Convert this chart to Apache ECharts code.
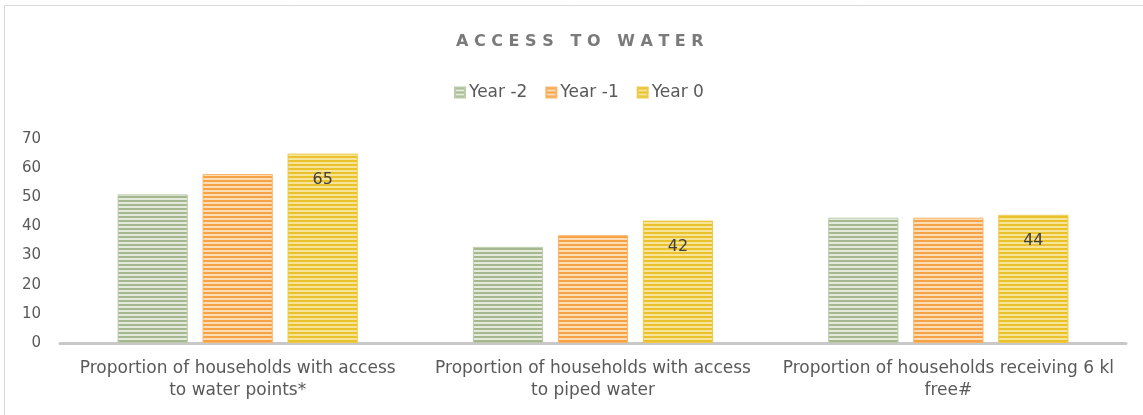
<!DOCTYPE html>
<html>
<head>
<meta charset="utf-8">
<style>
  html, body { margin: 0; padding: 0; background: #fff; }
  #chart { width: 1143px; height: 415px; }
</style>
<script src="https://cdn.jsdelivr.net/npm/echarts@6/dist/echarts.min.js"></script>
</head>
<body>
<div id="chart"></div>
<script>
// Indicator categories (x axis)
const categories = [
  'Proportion of households with access\nto water points*',
  'Proportion of households with access\nto piped water',
  'Proportion of households receiving 6 kl\nfree#'
];
// Series values per year
const yearMinus2 = [51, 33, 43];
const yearMinus1 = [58, 37, 43];
const year0 = [65, 42, 44];
// Value axis ticks
const yTicks = [0, 10, 20, 30, 40, 50, 60, 70];

// Horizontal-stripe fill used for every bar
function stripes(dark, light) {
  const c = document.createElement('canvas');
  c.width = 8; c.height = 4;
  const ctx = c.getContext('2d');
  ctx.fillStyle = light;
  ctx.fillRect(0, 0, 8, 4);
  ctx.fillStyle = dark;
  ctx.fillRect(0, 0, 8, 2);
  return { image: c, repeat: 'repeat' };
}

const palette = [
  { dark: '#a6b890', light: '#e4eadb', border: '#bccaa9' },
  { dark: '#f6a348', light: '#fcdcb4', border: '#f8b56a' },
  { dark: '#e9c22c', light: '#f7e39a', border: '#eccb4c' }
];

const font = '"DejaVu Sans", sans-serif';
const chart = echarts.init(document.getElementById('chart'), null, { renderer: 'canvas' });

function makeSeries(name, data, idx, withLabel) {
  const p = palette[idx];
  return {
    name: name,
    type: 'bar',
    data: data,
    barGap: '21%',
    barCategoryGap: '32.4%',
    itemStyle: { color: stripes(p.dark, p.light), borderColor: p.border, borderWidth: 1 },
    label: withLabel ? {
      show: true, position: 'insideTop', distance: 18,
      color: '#404040', fontSize: 16, fontFamily: font
    } : { show: false },
    emphasis: { disabled: true }
  };
}

chart.setOption({
  animation: false,
  backgroundColor: '#ffffff',
  title: {
    text: 'A C C E S S   T O   W A T E R',
    left: 451, top: 29,
    textStyle: { color: '#7a7a7a', fontSize: 16, fontWeight: 'bold', fontFamily: font }
  },
  legend: {
    top: 79, left: 449,
    itemWidth: 10, itemHeight: 10, itemGap: 18,
    icon: 'rect',
    textStyle: { color: '#595959', fontSize: 17, fontFamily: font, padding: [0, 0, 0, -1] },
    data: ['Year -2', 'Year -1', 'Year 0']
  },
  graphic: [{
    type: 'rect', silent: true, z: -1,
    shape: { x: 4.5, y: 5.5, width: 1160, height: 430 },
    style: { fill: 'none', stroke: '#d9d9d9', lineWidth: 1 }
  }],
  grid: { left: 60, right: 17, top: 139, bottom: 72, containLabel: false },
  xAxis: {
    type: 'category',
    data: categories,
    axisLine: { show: true, lineStyle: { color: '#c8c8c8', width: 3 } },
    axisTick: { show: false },
    axisLabel: { color: '#595959', fontSize: 17, fontFamily: font, lineHeight: 22, margin: 15, interval: 0 }
  },
  yAxis: {
    type: 'value',
    min: yTicks[0], max: yTicks[yTicks.length - 1], interval: 10,
    axisLine: { show: false },
    axisTick: { show: false },
    splitLine: { show: false },
    axisLabel: { color: '#595959', fontSize: 15, fontFamily: font, margin: 19 }
  },
  series: [
    makeSeries('Year -2', yearMinus2, 0, false),
    makeSeries('Year -1', yearMinus1, 1, false),
    makeSeries('Year 0', year0, 2, true)
  ]
});
</script>
</body>
</html>
